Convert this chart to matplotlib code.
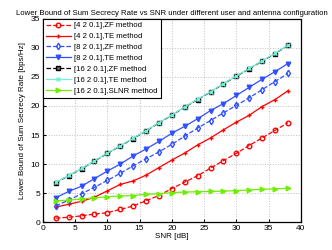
import numpy as np
import matplotlib.pyplot as plt

plt.rcParams['font.family'] = ['Liberation Sans', 'DejaVu Sans']

snr = np.arange(2, 40, 2)

zf_4 = [0.7, 0.86, 1.1, 1.4, 1.65, 2.2, 2.8, 3.7, 4.6, 5.8, 6.9, 8.0, 9.3, 10.6, 11.85, 13.2, 14.5, 15.8, 17.1]
te_4 = [2.6, 3.1, 3.6, 4.3, 5.4, 6.5, 7.1, 8.1, 9.4, 10.7, 11.9, 13.3, 14.5, 15.9, 17.2, 18.4, 19.9, 21.1, 22.6]
zf_8 = [2.8, 3.8, 4.9, 6.0, 7.2, 8.4, 9.7, 10.9, 12.1, 13.4, 14.8, 16.2, 17.5, 18.8, 20.1, 21.4, 22.8, 24.2, 25.6]
te_8 = [4.2, 5.3, 6.2, 7.5, 8.8, 10.0, 11.4, 12.6, 13.9, 15.3, 16.5, 17.8, 19.2, 20.4, 21.8, 23.2, 24.6, 25.9, 27.3]
zf_16 = [6.8, 8.0, 9.2, 10.5, 11.85, 13.1, 14.4, 15.7, 17.1, 18.4, 19.8, 21.1, 22.4, 23.8, 25.1, 26.4, 27.7, 29.0, 30.4]
te_16 = [6.85, 8.05, 9.25, 10.55, 11.9, 13.15, 14.45, 15.75, 17.15, 18.45, 19.85, 21.15, 22.45, 23.85, 25.15, 26.45, 27.75, 29.05, 30.45]
slnr_16 = [3.7, 3.8, 4.0, 4.2, 4.4, 4.5, 4.6, 4.8, 4.9, 5.1, 5.2, 5.25, 5.3, 5.35, 5.45, 5.55, 5.65, 5.75, 5.85]

labels = ["[4 2 0.1],ZF method", "[4 2 0.1],TE method", "[8 2 0.1],ZF method",
          "[8 2 0.1],TE method", "[16 2 0.1],ZF method", "[16 2 0.1],TE method",
          "[16 2 0.1],SLNR method"]

fig = plt.figure(figsize=(3.32, 2.5), dpi=100)
ax = fig.add_axes([0.129, 0.111, 0.777, 0.814])

ms = 3.3
lw = 0.9
ax.plot(snr, zf_4, color='red', linestyle='--', marker='o', mfc='none', ms=ms, lw=lw, label=labels[0])
ax.plot(snr, te_4, color='red', linestyle='-', marker='+', ms=ms, lw=lw, label=labels[1])
ax.plot(snr, zf_8, color='#3050ff', linestyle='--', marker='d', mfc='none', ms=ms, lw=lw, label=labels[2])
ax.plot(snr, te_8, color='#3050ff', linestyle='-', marker='v', ms=ms, lw=lw, label=labels[3])
ax.plot(snr, zf_16, color='black', linestyle='--', marker='s', mfc='#707070', ms=ms - 0.5, lw=lw, label=labels[4])
ax.plot(snr, te_16, color='#70f0d8', linestyle='-', marker='x', ms=ms - 0.5, lw=lw, label=labels[5])
ax.plot(snr, slnr_16, color='#70ee00', linestyle='-', marker='>', ms=ms, lw=lw, label=labels[6])

ax.set_xlim(0, 40)
ax.set_ylim(0, 35)
ax.set_xticks(np.arange(0, 41, 5))
ax.set_yticks(np.arange(0, 36, 5))
ax.tick_params(direction='in', labelsize=6, length=2, pad=2)
ax.grid(True, linestyle=':', color='#c0c0c0', linewidth=0.7)
for s in ax.spines.values():
    s.set_linewidth(0.9)

ax.set_xlabel('SNR [dB]', fontsize=5.8, labelpad=1)
ax.set_ylabel('Lower Bound of Sum Secrecy Rate [bps/Hz]', fontsize=5.8, labelpad=3)
ax.set_title('Lower Bound of Sum Secrecy Rate vs SNR under different user and antenna configuration',
             fontsize=5.6, pad=3)

leg = ax.legend(loc='upper left', fontsize=5.6, fancybox=False, edgecolor='black',
                borderaxespad=0, handlelength=3.2, labelspacing=0.45, borderpad=0.4,
                handletextpad=0.4, framealpha=1)
leg.get_frame().set_linewidth(0.8)

fig.savefig('out.png', dpi=100)
